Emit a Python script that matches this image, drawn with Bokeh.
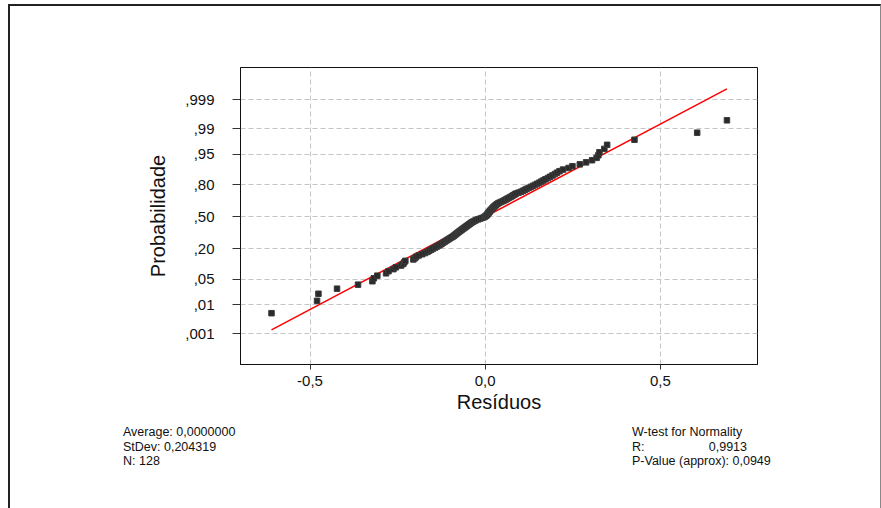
from statistics import NormalDist
from bokeh.plotting import figure
from bokeh.layouts import column
from bokeh.models import FixedTicker, ColumnDataSource, Div
from bokeh.embed import file_html
from bokeh.resources import INLINE

# Sorted residuals (128 values)
residuos = [
    -0.610, -0.480, -0.476, -0.423, -0.363, -0.322, -0.318, -0.308,
    -0.283, -0.276, -0.262, -0.255, -0.240, -0.234, -0.231, -0.228,
    -0.205, -0.200, -0.197, -0.190, -0.180, -0.172, -0.165, -0.160,
    -0.154, -0.149, -0.143, -0.138, -0.133, -0.128, -0.124, -0.120,
    -0.116, -0.112, -0.108, -0.104, -0.100, -0.096, -0.092, -0.089,
    -0.086, -0.083, -0.080, -0.077, -0.074, -0.071, -0.068, -0.065,
    -0.062, -0.059, -0.056, -0.053, -0.050, -0.047, -0.044, -0.041,
    -0.038, -0.034, -0.030, -0.026, -0.020, -0.014, -0.008, -0.003,
    0.000, 0.003, 0.005, 0.007, 0.008, 0.010, 0.012, 0.013,
    0.015, 0.017, 0.019, 0.021, 0.023, 0.025, 0.028, 0.030,
    0.033, 0.036, 0.040, 0.045, 0.050, 0.055, 0.059, 0.063,
    0.067, 0.072, 0.076, 0.080, 0.084, 0.088, 0.095, 0.102,
    0.108, 0.113, 0.118, 0.124, 0.130, 0.136, 0.142, 0.148,
    0.154, 0.160, 0.166, 0.172, 0.179, 0.185, 0.192, 0.199,
    0.205, 0.212, 0.222, 0.238, 0.249, 0.270, 0.288, 0.305,
    0.318, 0.323, 0.326, 0.340, 0.348, 0.426, 0.605, 0.690,
]

media = 0.0
desvio = 0.204319
prob_ticks = [0.001, 0.01, 0.05, 0.20, 0.50, 0.80, 0.95, 0.99, 0.999]
prob_labels = [",001", ",01", ",05", ",20", ",50", ",80", ",95", ",99", ",999"]
x_ticks = [-0.5, 0.0, 0.5]
x_labels = ["-0,5", "0,0", "0,5"]
stats_left = ["Average: 0,0000000", "StDev: 0,204319", "N: 128"]
stats_right = ["W-test for Normality", "R:", "P-Value (approx): 0,0949"]
r_value = "0,9913"

nd = NormalDist()
n = len(residuos)
zs = [nd.inv_cdf((i + 1 - 0.3) / (n + 0.4)) for i in range(n)]
src = ColumnDataSource(dict(x=residuos, y=zs))

X0, X1 = -0.6985, 0.7772
Y0, Y1 = -3.90, 3.94
font = "Liberation Sans"

p = figure(width=873, height=416, x_range=(X0, X1), y_range=(Y0, Y1),
           output_backend="svg", toolbar_location=None,
           min_border_left=230, min_border_right=126,
           min_border_top=61, min_border_bottom=58)
p.styles = {"margin-left": "8px", "margin-top": "4px",
            "border-left": "2px solid #222", "border-top": "2px solid #222",
            "border-right": "1px solid #888", "box-sizing": "border-box"}

p.outline_line_color = "#111"
p.outline_line_width = 1

p.xaxis.ticker = FixedTicker(ticks=x_ticks)
p.xaxis.major_label_overrides = {t: l for t, l in zip(x_ticks, x_labels)}
p.yaxis.ticker = FixedTicker(ticks=[nd.inv_cdf(q) for q in prob_ticks])
p.yaxis.major_label_overrides = {nd.inv_cdf(q): l for q, l in zip(prob_ticks, prob_labels)}
for ax in (p.xaxis, p.yaxis):
    ax.minor_tick_line_color = None
    ax.axis_line_color = "#111"
    ax.major_tick_line_color = "#333"
    ax.major_label_text_font = font
    ax.major_label_text_font_size = "15px"
    ax.major_label_text_color = "#111"
    ax.axis_label_text_font = font
    ax.axis_label_text_font_size = "20px"
    ax.axis_label_text_font_style = "normal"
    ax.axis_label_text_color = "#111"
p.xaxis.major_tick_out = 5
p.xaxis.major_tick_in = 0
p.xaxis.major_label_standoff = 6
p.xaxis.axis_label = "Resíduos"
p.xaxis.axis_label_standoff = 2
p.yaxis.major_tick_out = 8
p.yaxis.major_tick_in = 0
p.yaxis.major_label_standoff = 18
p.yaxis.axis_label = "Probabilidade"
p.yaxis.axis_label_standoff = 13

for g in (p.xgrid, p.ygrid):
    g.grid_line_color = "#c4c4c4"
    g.grid_line_dash = "5 3"
    g.grid_line_width = 1
p.xgrid.ticker = FixedTicker(ticks=x_ticks)
p.ygrid.ticker = FixedTicker(ticks=[nd.inv_cdf(q) for q in prob_ticks])

# fitted normal line
lx = [min(residuos), max(residuos)]
ly = [(v - media) / desvio for v in lx]
p.line(lx, ly, color="#ff0000", line_width=1.5)

p.scatter("x", "y", source=src, marker="square", size=5.5,
          fill_color="#2a2a2a", line_color="#3a3a3a", line_width=1)

# stats panel below the chart
rows_top = [5, 19.5, 34]
span = ("<span style=\"position:absolute;left:{l}px;top:{t}px;"
        "white-space:nowrap;\">{s}</span>")
parts = [span.format(l=113, t=t, s=s) for s, t in zip(stats_left, rows_top)]
parts += [span.format(l=622, t=t, s=s) for s, t in zip(stats_right, rows_top)]
parts.append("<span style=\"position:absolute;right:133px;top:%spx;"
             "white-space:nowrap;\">%s</span>" % (rows_top[1], r_value))
html = ("<div style=\"position:relative;width:870px;height:88px;"
        "font-family:'Liberation Sans';font-size:12.5px;line-height:14px;"
        "color:#111;\">" + "".join(parts) + "</div>")
stats = Div(text=html, width=873, height=88)
stats.styles = {"margin-left": "8px", "border-left": "2px solid #222",
                "border-right": "1px solid #888", "box-sizing": "border-box",
                "padding": "0", "margin-top": "0"}

layout = column(p, stats, spacing=0)
open("out.html", "w").write(file_html(layout, INLINE))
